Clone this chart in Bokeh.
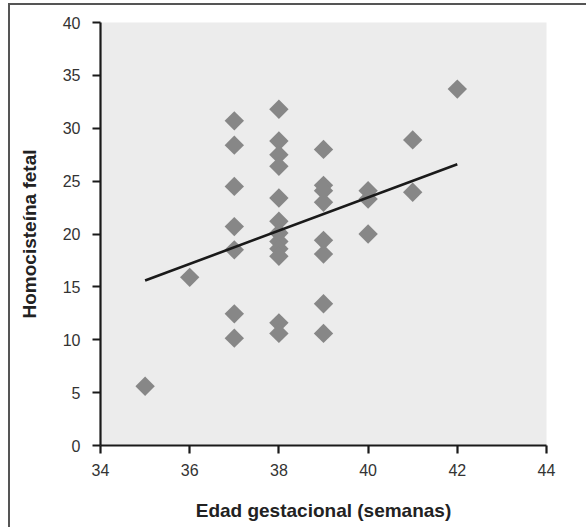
import math
from bokeh.plotting import figure
from bokeh.models import FixedTicker, ColumnDataSource
from bokeh.embed import file_html
from bokeh.resources import INLINE

# Data
edad = [35, 36,
        37, 37, 37, 37, 37, 37, 37,
        38, 38, 38, 38, 38, 38, 38, 38, 38, 38, 38, 38,
        39, 39, 39, 39, 39, 39, 39, 39,
        40, 40, 40,
        41, 41,
        42]
homocisteina = [5.6, 15.9,
                30.7, 28.4, 24.5, 20.7, 18.5, 12.45, 10.15,
                31.8, 28.8, 27.5, 26.4, 23.4, 21.2, 20.1, 19.3, 18.6, 17.9, 11.6, 10.6,
                28.0, 24.6, 24.1, 23.0, 19.4, 18.1, 13.4, 10.6,
                24.1, 23.3, 20.0,
                28.9, 23.95,
                33.7]

# Regression line end points
linea_x = [35, 42]
linea_y = [15.6, 26.6]

x_ticks = [34, 36, 38, 40, 42, 44]
y_ticks = [0, 5, 10, 15, 20, 25, 30, 35, 40]

FONT = "Liberation Sans"

p = figure(width=578, height=524, x_range=(34, 44), y_range=(0, 40),
           output_backend="svg", toolbar_location=None,
           min_border_left=90, min_border_top=17, min_border_right=42,
           min_border_bottom=84)
p.styles = {"border-left": "2px solid #555555", "border-top": "2px solid #555555",
            "margin-top": "3px", "margin-left": "8px"}

p.background_fill_color = "#ececec"
p.border_fill_color = "white"
p.outline_line_color = None
p.grid.visible = False

src = ColumnDataSource(dict(x=edad, y=homocisteina))
p.scatter("x", "y", source=src, marker="square", size=13.7, angle=math.pi / 4,
          fill_color="#878787", line_color=None)
p.line(linea_x, linea_y, line_color="#1a1a1a", line_width=2.6)

for ax, ticks in ((p.xaxis, x_ticks), (p.yaxis, y_ticks)):
    ax.ticker = FixedTicker(ticks=ticks)
    ax.axis_line_width = 2.2
    ax.axis_line_color = "#1a1a1a"
    ax.major_tick_line_width = 2.2
    ax.major_tick_line_color = "#1a1a1a"
    ax.major_tick_in = 0
    ax.major_tick_out = 8
    ax.minor_tick_line_color = None
    ax.major_label_text_font = FONT
    ax.major_label_text_font_size = "16px"
    ax.major_label_text_color = "#333333"
    ax.axis_label_text_font = FONT
    ax.axis_label_text_font_size = "19px"
    ax.axis_label_text_font_style = "bold"
    ax.axis_label_text_color = "#222222"

p.xaxis.axis_label = "Edad gestacional (semanas)"
p.yaxis.axis_label = "Homocisteína fetal"
p.xaxis.major_label_standoff = 10
p.yaxis.major_label_standoff = 12
p.xaxis.axis_label_standoff = 21
p.yaxis.axis_label_standoff = 20

open("out.html", "w").write(file_html(p, INLINE))
